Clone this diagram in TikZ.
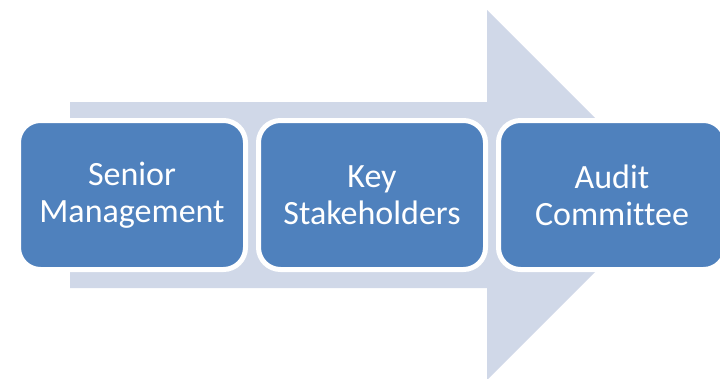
\documentclass[tikz,border=0pt]{standalone}
\usepackage{fontspec}
\setmainfont[Ligatures=NoCommon]{Carlito}
\definecolor{boxblue}{HTML}{4F81BD}
\definecolor{arrowgray}{HTML}{D0D8E8}
\begin{document}
\begin{tikzpicture}[x=1pt,y=-1pt,
  stagebox/.style={draw=white,line width=5pt,fill=boxblue,rounded corners=22pt,
    minimum width=227pt,minimum height=149pt,inner sep=0pt,text=white,
    align=center,font=\fontsize{34}{37}\selectfont}]
\useasboundingbox (0,0) rectangle (720,378);
\clip (0,0) rectangle (720,378);
\fill[arrowgray] (70,102) -- (487,102) -- (487,10) -- (672,195) -- (487,380) -- (487,288) -- (70,288) -- cycle;
\node[stagebox] (sm) at (132,195) {Senior\\Management};
\node[stagebox] (ks) at (372,195) {Key\\Stakeholders};
\node[stagebox] (ac) at (612,195) {Audit\\Committee};
\end{tikzpicture}
\end{document}
